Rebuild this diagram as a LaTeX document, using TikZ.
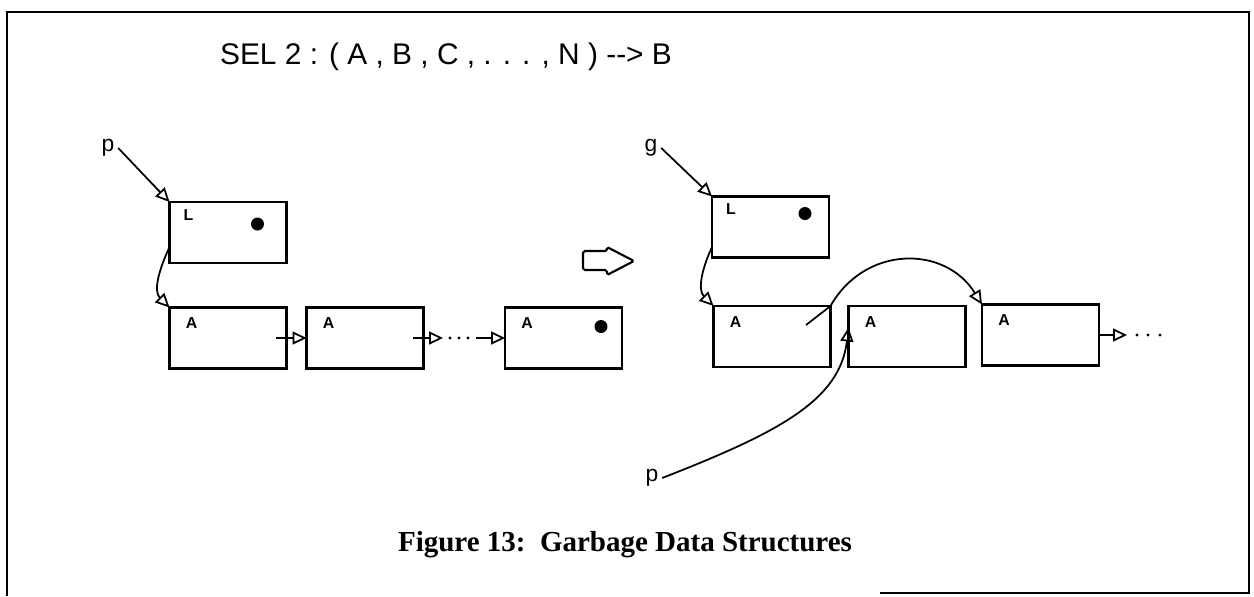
\documentclass[tikz,border=0pt]{standalone}
\usepackage{fontspec}
\setmainfont{Liberation Sans}
\newfontfamily\capfont{Liberation Serif}
\usetikzlibrary{arrows.meta}

\tikzset{
  cell/.style={draw, line width=1.4pt, minimum width=2.34cm, minimum height=1.22cm, inner sep=0pt, outer sep=0pt},
  tag/.style={font=\fontsize{9}{9}\selectfont\bfseries, inner sep=0pt},
  ptr/.style={-{Triangle[open, length=0.28cm, width=0.26cm]}, line width=1pt},
  lbl/.style={font=\fontsize{13}{13}\selectfont, inner sep=2pt},
}

\begin{document}
\begin{tikzpicture}[x=0.02cm, y=-0.02cm]
  \useasboundingbox (0,0) rectangle (1254,596);
  % rahmen
  \draw[line width=1.4pt] (880,593) -- (1249,593) -- (1249,12) -- (7,12) -- (7,596);

  % kopfzeile
  \node[lbl, font=\fontsize{17}{17}\selectfont] (sel) at (446,57) {SEL 2 : ( A , B , C , . . . , N ) -\kern0pt-\kern0pt> B};

  % liste vorher
  \node[lbl] (p1) at (108,148) {p};
  \node[cell] (l1) at (228,232.5) {};
  \node[cell] (a1) at (228,338) {};
  \node[cell] (a2) at (365,338) {};
  \node[cell] (a3) at (563.5,338) {};
  \node[tag] at ([shift={(0.38cm,-0.26cm)}]l1.north west) {L};
  \foreach \c in {a1,a2,a3}
    \node[tag] at ([shift={(0.44cm,-0.32cm)}]\c.north west) {A};
  \fill ([shift={(-0.58cm,-0.44cm)}]l1.north east) circle (0.13cm);
  \fill ([shift={(-0.42cm,-0.38cm)}]a3.north east) circle (0.13cm);

  \draw[ptr] (p1.east) -- (l1.north west);
  \draw[ptr] ([yshift=-0.29cm]l1.west) to[out=245, in=135] (a1.north west);
  \draw[ptr] ([xshift=-0.2cm]a1.east) -- (a2.west);
  \coordinate (gap1) at (443,338);
  \coordinate (gap2) at (476,338);
  \draw[ptr] ([xshift=-0.2cm]a2.east) -- (gap1);
  \foreach \x in {450,459,468}
    \fill (\x,338) circle (0.9pt);
  \draw[ptr] (gap2) -- (a3.west);

  % uebergang
  \draw[line width=1.2pt, rounded corners=1pt] (583,251) -- (607,251) -- (607,247) -- (634,261)
    -- (607,275) -- (607,270) -- (583,270) -- cycle;

  % liste nachher
  \node[lbl] (g1) at (651,148) {g};
  \node[cell] (l2) at (770.5,227) {};
  \node[cell] (a4) at (772,336.5) {};
  \node[cell] (a5) at (907,336.5) {};
  \node[cell] (a6) at (1040.5,335) {};
  \node[tag] at ([shift={(0.38cm,-0.26cm)}]l2.north west) {L};
  \foreach \c in {a4,a5,a6}
    \node[tag] at ([shift={(0.44cm,-0.32cm)}]\c.north west) {A};
  \fill ([shift={(-0.48cm,-0.34cm)}]l2.north east) circle (0.13cm);

  \draw[ptr] (g1.east) -- (l2.north west);
  \draw[ptr] ([yshift=-0.4cm]l2.west) to[out=245, in=135] (a4.north west);
  \coordinate (cut) at (806,325);
  \draw[ptr] (cut) -- (a4.north east) .. controls (865,245) and (945,245) .. (a6.north west);
  \node[lbl] (p2) at (652,478) {p};
  \draw[ptr] (p2.east) .. controls (780,432) and (840,400) .. ([yshift=0.18cm]a5.west);
  \coordinate (more) at (1127,335);
  \draw[ptr] (a6.east) -- (more);
  \foreach \x in {1137,1148,1160}
    \fill (\x,335) circle (0.9pt);

  % unterschrift
  \node[font=\capfont\bfseries\fontsize{16.5}{16.5}\selectfont] (cap) at (625,545) {Figure 13:\ \ Garbage Data Structures};
\end{tikzpicture}
\end{document}
